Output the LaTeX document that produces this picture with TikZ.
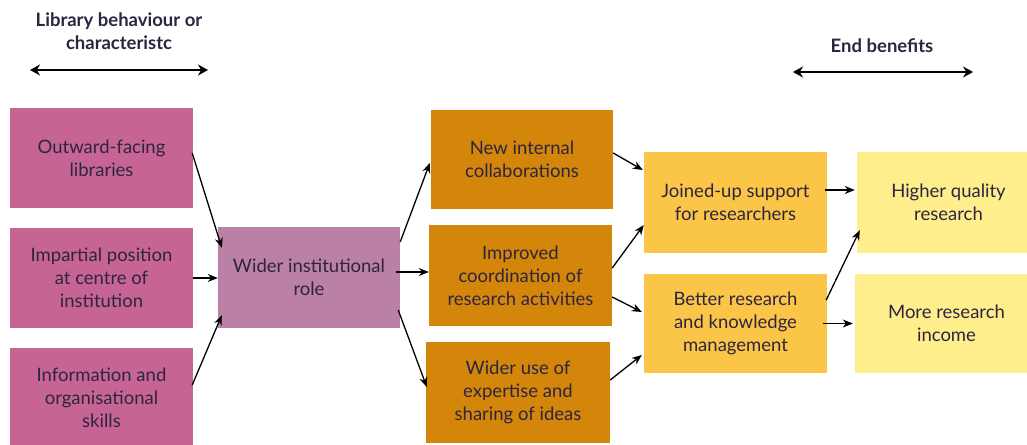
\documentclass[tikz,border=0pt]{standalone}
\usepackage{fontspec}
\setmainfont{Lato}
\usetikzlibrary{arrows.meta,calc}
\definecolor{pinkbox}{RGB}{198,101,148}
\definecolor{mauvebox}{RGB}{186,128,165}
\definecolor{orangebox}{RGB}{212,134,10}
\definecolor{yellowbox}{RGB}{251,197,72}
\definecolor{paleyellow}{RGB}{254,238,140}
\definecolor{txt}{RGB}{46,36,64}
\tikzset{
 box/.style={rectangle, minimum width=183pt, minimum height=100pt, inner sep=0pt, align=center, font=\fontsize{18.5}{23}\selectfont, text=txt},
 arr/.style={-{Stealth[length=10pt,width=8pt]}, line width=1.3pt, black},
 hdrarr/.style={{Stealth[length=10pt,width=11pt]}-{Stealth[length=10pt,width=11pt]}, line width=2pt, black},
 hdr/.style={align=center, font=\bfseries\fontsize{18.5}{23}\selectfont, text=txt}
}
\begin{document}
\begin{tikzpicture}[x=1pt,y=-1pt]
\useasboundingbox (0,0) rectangle (1027,444);
% headers
\node[hdr] (hl) at (119,31) {Library behaviour or\\characteristc};
\coordinate (la) at (30,70);
\coordinate (lb) at (208,70);
\draw[hdrarr] (la) -- (lb);
\node[hdr] (he) at (882,46) {End benefits};
\coordinate (ea) at (793,72);
\coordinate (eb) at (973,72);
\draw[hdrarr] (ea) -- (eb);
% column 1
\node[box, fill=pinkbox] (o1) at (101.5,158) {Outward-facing\\libraries};
\node[box, fill=pinkbox] (o2) at (101.5,278) {Impartial position\\at centre of\\institution};
\node[box, fill=pinkbox] (o3) at (101.5,398) {Information and\\organisational\\skills};
% column 2
\node[box, fill=mauvebox, minimum width=182pt, minimum height=101pt] (wr) at (309,277.5) {Wider institutional\\role};
% column 3
\node[box, fill=orangebox, minimum width=182pt, minimum height=99pt] (n1) at (522,159.5) {New internal\\collaborations};
\node[box, fill=orangebox, minimum height=101pt] (n2) at (520.5,275.5) {Improved\\coordination of\\research activities};
\node[box, fill=orangebox, minimum width=184pt, minimum height=101pt] (n3) at (518,392.5) {Wider use of\\expertise and\\sharing of ideas};
% column 4
\node[box, fill=yellowbox, minimum height=101pt] (j) at (735.5,202.5) {Joined-up support\\for researchers};
\node[box, fill=yellowbox, minimum height=99pt] (b) at (735.5,323.5) {Better research\\and knowledge\\management};
% column 5
\node[box, fill=paleyellow, minimum height=101pt] (h) at (948.5,202.5) {Higher quality\\research};
\node[box, fill=paleyellow, minimum height=99pt] (m) at (946.5,323.5) {More research\\income};
% arrows
\draw[arr] ([xshift=-1pt,yshift=5pt]o1.east) -- ([xshift=4pt,yshift=-21pt]wr.north west);
\draw[arr] (o2.east) -- (o2.east -| wr.west);
\draw[arr] ([xshift=-1pt,yshift=13pt]o3.east) -- ([xshift=4pt,yshift=13pt]wr.south west);
\draw[arr] ([yshift=35.5pt]wr.east) -- ([xshift=-1pt,yshift=-3.5pt]n1.west);
\draw[arr] ([xshift=-4pt,yshift=5.5pt]wr.east) -- ([yshift=3.5pt]n2.west);
\draw[arr] ([xshift=-2pt,yshift=-32.5pt]wr.east) -- ([xshift=1pt,yshift=5.5pt]n3.west);
\draw[arr] ([yshift=6.5pt]n1.east) -- ([xshift=-1pt,yshift=32.5pt]j.west);
\draw[arr] ([yshift=7.5pt]n2.east) -- ([yshift=-22.5pt]j.west);
\draw[arr] ([yshift=-21.5pt]n2.east) -- ([xshift=-2pt,yshift=11.5pt]b.west);
\draw[arr] ([yshift=12.5pt]n3.east) -- ([xshift=-2pt,yshift=-31.5pt]b.west);
\draw[arr] ([xshift=-2pt,yshift=12.5pt]j.east) -- ([xshift=-2pt,yshift=12.5pt]h.west);
\draw[arr] ([xshift=-1pt,yshift=23.5pt]b.east) -- ([xshift=3pt,yshift=23pt]h.south west);
\draw[arr] ([xshift=-4pt]b.east) -- ([xshift=-2pt]m.west);
\end{tikzpicture}
\end{document}
